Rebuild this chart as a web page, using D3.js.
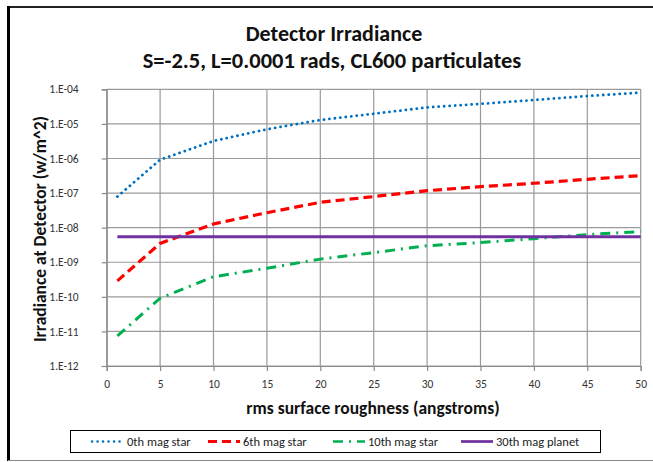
<!DOCTYPE html>
<html>
<head>
<meta charset="utf-8">
<script src="https://cdn.jsdelivr.net/npm/d3@7/dist/d3.min.js"></script>
<style>
  body { margin: 0; background: #fff; }
  svg { display: block; font-family: Carlito, Calibri, 'Open Sans', sans-serif; }
</style>
</head>
<body>
<svg id="chart" width="653" height="462"></svg>
<script>
// roughness values (angstroms)
const roughness = [1, 5, 10, 15, 20, 25, 30, 35, 40, 45, 50];
// irradiance at detector (w/m^2)
const mag0 = [7.9e-8, 9.2e-7, 3.2e-6, 7.0e-6, 1.3e-5, 1.97e-5, 3.0e-5, 3.8e-5, 4.9e-5, 6.4e-5, 8.0e-5];
const mag6 = [2.9e-10, 3.5e-9, 1.28e-8, 2.7e-8, 5.4e-8, 7.9e-8, 1.17e-7, 1.53e-7, 1.92e-7, 2.5e-7, 3.2e-7];
const mag10 = [7.4e-12, 9.1e-11, 3.8e-10, 6.7e-10, 1.23e-9, 1.9e-9, 3.0e-9, 3.7e-9, 4.8e-9, 6.3e-9, 7.7e-9];
const planet30 = [5.5e-9, 5.5e-9, 5.5e-9, 5.5e-9, 5.5e-9, 5.5e-9, 5.5e-9, 5.5e-9, 5.5e-9, 5.5e-9, 5.5e-9];

const seriesNames = ['0th mag star', '6th mag star', '10th mag star', '30th mag planet'];
const xTicks = [0, 5, 10, 15, 20, 25, 30, 35, 40, 45, 50];
const yTicks = [1e-12, 1e-11, 1e-10, 1e-9, 1e-8, 1e-7, 1e-6, 1e-5, 1e-4];

const series = [
  { name: seriesNames[0], values: mag0, color: '#0070C0', width: 2.8, dash: '0.1,5.4', cap: 'round' },
  { name: seriesNames[1], values: mag6, color: '#FF0000', width: 3.2, dash: '9,5', cap: 'butt' },
  { name: seriesNames[2], values: mag10, color: '#00B050', width: 3, dash: '10,6,2,6', cap: 'butt' },
  { name: seriesNames[3], values: planet30, color: '#7030A0', width: 3, dash: null, cap: 'butt' }
];

const svg = d3.select('#chart');

// outer chart frame
svg.append('line').attr('x1', 8).attr('x2', 653).attr('y1', 7).attr('y2', 7)
  .attr('stroke', '#222').attr('stroke-width', 2);
svg.append('line').attr('x1', 8.5).attr('x2', 8.5).attr('y1', 6).attr('y2', 461)
  .attr('stroke', '#000').attr('stroke-width', 3);
svg.append('line').attr('x1', 8).attr('x2', 653).attr('y1', 460.5).attr('y2', 460.5)
  .attr('stroke', '#888').attr('stroke-width', 1);

const pLeft = 106.7, pRight = 640.7, pTop = 89.3, pBottom = 366;

const x = d3.scaleLinear().domain([0, 50]).range([pLeft, pRight]);
const y = d3.scaleLog().domain([1e-12, 1e-4]).range([pBottom, pTop]);

// gridlines
const grid = svg.append('g');
grid.selectAll('.vg').data(xTicks).enter().append('line')
  .attr('x1', d => x(d)).attr('x2', d => x(d))
  .attr('y1', pTop).attr('y2', pBottom)
  .attr('stroke', '#9a9a9a').attr('stroke-width', 1.2);
grid.selectAll('.hg').data(yTicks).enter().append('line')
  .attr('x1', pLeft).attr('x2', pRight)
  .attr('y1', d => y(d)).attr('y2', d => y(d))
  .attr('stroke', '#9a9a9a').attr('stroke-width', 1.2);

// axes
const yLabel = d => {
  const e = Math.round(Math.log10(d));
  return '1.E' + (e < 0 ? '-' : '+') + String(Math.abs(e)).padStart(2, '0');
};

const yAxis = svg.append('g').attr('transform', `translate(${pLeft},0)`)
  .call(d3.axisLeft(y).tickValues(yTicks).tickFormat(yLabel).tickSize(5).tickPadding(23));
const xAxis = svg.append('g').attr('transform', `translate(0,${pBottom})`)
  .call(d3.axisBottom(x).tickValues(xTicks).tickSize(5).tickPadding(9));

[yAxis, xAxis].forEach(a => {
  a.select('.domain').attr('stroke', '#8a8a8a').attr('stroke-width', 1.2);
  a.selectAll('.tick line').attr('stroke', '#8a8a8a').attr('stroke-width', 1.2);
  a.selectAll('.tick text').attr('fill', '#333').style('font-size', '11.5px')
    .style('font-family', "Carlito, Calibri, 'Open Sans', sans-serif");
});

// series lines
const line = d3.line()
  .x((d, i) => x(roughness[i]))
  .y(d => y(d));

series.forEach(s => {
  svg.append('path')
    .datum(s.values)
    .attr('d', line)
    .attr('fill', 'none')
    .attr('stroke', s.color)
    .attr('stroke-width', s.width)
    .attr('stroke-dasharray', s.dash)
    .attr('stroke-linecap', s.cap);
});

// titles
svg.append('text').attr('x', 334).attr('y', 41).attr('text-anchor', 'middle')
  .style('font-size', '22px').style('font-weight', 'bold').attr('fill', '#111')
  .text('Detector Irradiance');
svg.append('text').attr('x', 332).attr('y', 68).attr('text-anchor', 'middle')
  .style('font-size', '22.5px').style('font-weight', 'bold').attr('fill', '#111')
  .text('S=-2.5, L=0.0001 rads, CL600 particulates');

svg.append('text').attr('x', 373).attr('y', 414).attr('text-anchor', 'middle')
  .style('font-size', '17.5px').style('font-weight', 'bold').attr('fill', '#111')
  .text('rms surface roughness (angstroms)');

svg.append('text')
  .attr('transform', `translate(46,229) rotate(-90)`)
  .attr('text-anchor', 'middle')
  .style('font-size', '17.5px').style('font-weight', 'bold').attr('fill', '#111')
  .text('Irradiance at Detector (w/m^2)');

// legend
const legend = svg.append('g');
legend.append('rect').attr('x', 70.5).attr('y', 430.5).attr('width', 530).attr('height', 22)
  .attr('fill', '#fff').attr('stroke', '#000').attr('stroke-width', 1);

const legendX = [92, 208, 333, 461];
series.forEach((s, i) => {
  const g = legend.append('g').attr('transform', `translate(${legendX[i]},441.5)`);
  g.append('line').attr('x1', 0).attr('x2', 32).attr('y1', 0).attr('y2', 0)
    .attr('stroke', s.color).attr('stroke-width', s.width - 0.3)
    .attr('stroke-dasharray', s.dash).attr('stroke-linecap', s.cap);
  g.append('text').attr('x', 35).attr('y', 4.5).style('font-size', '12.5px').attr('fill', '#222')
    .text(s.name);
});
</script>
</body>
</html>
